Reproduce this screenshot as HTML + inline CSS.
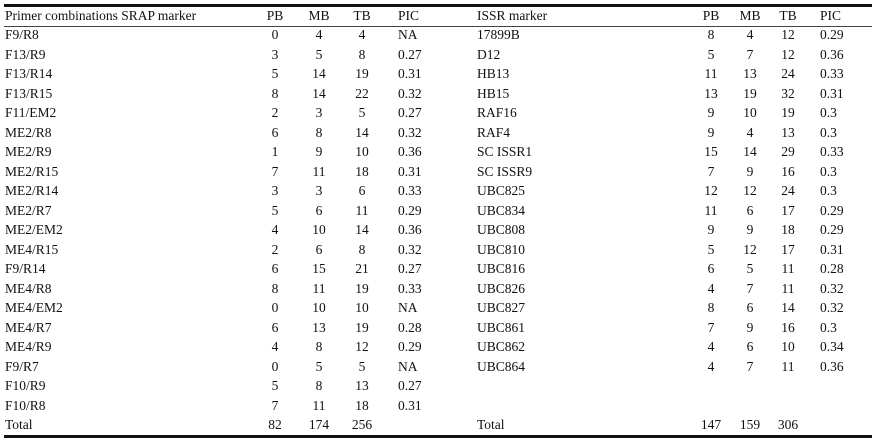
<!DOCTYPE html>
<html><head><meta charset="utf-8"><style>
body{margin:0;width:876px;height:442px;background:#fff;position:relative;overflow:hidden;font-family:"Liberation Serif",serif;font-size:13.5px;color:#111}
.r{position:absolute;left:0;width:876px;height:18px;line-height:18px}
.r span{position:absolute;top:0;white-space:nowrap}
.c{transform:translateX(-50%)}
.ln{position:absolute;left:4px;width:868px;background:#111}
</style></head><body>
<div class="ln" style="top:4px;height:2.5px"></div>
<div class="ln" style="top:26px;height:1px;background:#444"></div>
<div class="ln" style="top:435px;height:2.5px"></div>
<div id="t"></div>
<script>
var L=[["F9/R8",0,4,4,"NA"],["F13/R9",3,5,8,"0.27"],["F13/R14",5,14,19,"0.31"],["F13/R15",8,14,22,"0.32"],["F11/EM2",2,3,5,"0.27"],["ME2/R8",6,8,14,"0.32"],["ME2/R9",1,9,10,"0.36"],["ME2/R15",7,11,18,"0.31"],["ME2/R14",3,3,6,"0.33"],["ME2/R7",5,6,11,"0.29"],["ME2/EM2",4,10,14,"0.36"],["ME4/R15",2,6,8,"0.32"],["F9/R14",6,15,21,"0.27"],["ME4/R8",8,11,19,"0.33"],["ME4/EM2",0,10,10,"NA"],["ME4/R7",6,13,19,"0.28"],["ME4/R9",4,8,12,"0.29"],["F9/R7",0,5,5,"NA"],["F10/R9",5,8,13,"0.27"],["F10/R8",7,11,18,"0.31"],["Total",82,174,256,""]];
var R=[["17899B",8,4,12,"0.29"],["D12",5,7,12,"0.36"],["HB13",11,13,24,"0.33"],["HB15",13,19,32,"0.31"],["RAF16",9,10,19,"0.3"],["RAF4",9,4,13,"0.3"],["SC ISSR1",15,14,29,"0.33"],["SC ISSR9",7,9,16,"0.3"],["UBC825",12,12,24,"0.3"],["UBC834",11,6,17,"0.29"],["UBC808",9,9,18,"0.29"],["UBC810",5,12,17,"0.31"],["UBC816",6,5,11,"0.28"],["UBC826",4,7,11,"0.32"],["UBC827",8,6,14,"0.32"],["UBC861",7,9,16,"0.3"],["UBC862",4,6,10,"0.34"],["UBC864",4,7,11,"0.36"],null,null,["Total",147,159,306,""]];
var h='';
function row(top,a,b){
 var s='<div class="r" style="top:'+top+'px">';
 if(a){s+='<span style="left:5px">'+a[0]+'</span><span class="c" style="left:275px">'+a[1]+'</span><span class="c" style="left:319px">'+a[2]+'</span><span class="c" style="left:362px">'+a[3]+'</span><span style="left:398px">'+a[4]+'</span>';}
 if(b){s+='<span style="left:477px">'+b[0]+'</span><span class="c" style="left:711px">'+b[1]+'</span><span class="c" style="left:750px">'+b[2]+'</span><span class="c" style="left:788px">'+b[3]+'</span><span style="left:820px">'+b[4]+'</span>';}
 return s+'</div>';
}
h+=row(7,["Primer combinations SRAP marker","PB","MB","TB","PIC"],["ISSR marker","PB","MB","TB","PIC"]);
for(var i=0;i<21;i++){h+=row(Math.round(26+i*19.5),L[i],R[i]);}
document.getElementById('t').innerHTML=h;
</script>
</body></html>
